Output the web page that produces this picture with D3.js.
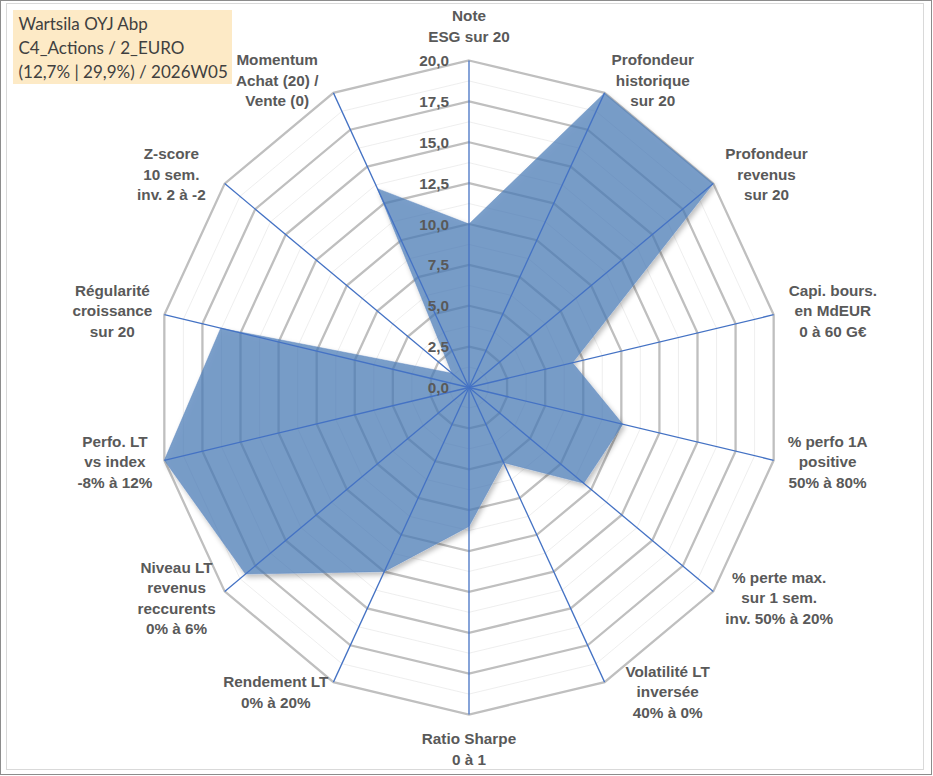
<!DOCTYPE html>
<html>
<head>
<meta charset="utf-8">
<script src="https://cdn.jsdelivr.net/npm/d3@7"></script>
<style>
  html, body { margin: 0; padding: 0; background: #fff; }
  svg { display: block; }
</style>
</head>
<body>
<div id="chart"></div>
<script>
// axes, clockwise from the top
const categories = [
  'Note\nESG sur 20',
  'Profondeur\nhistorique\nsur 20',
  'Profondeur\nrevenus\nsur 20',
  'Capi. bours.\nen MdEUR\n0 à 60 G€',
  '% perfo 1A\npositive\n50% à 80%',
  '% perte max.\nsur 1 sem.\ninv. 50% à 20%',
  'Volatilité LT\ninversée\n40% à 0%',
  'Ratio Sharpe\n0 à 1',
  'Rendement LT\n0% à 20%',
  'Niveau LT\nrevenus\nreccurents\n0% à 6%',
  'Perfo. LT\nvs index\n-8% à 12%',
  'Régularité\ncroissance\nsur 20',
  'Z-score\n10 sem.\ninv. 2 à -2',
  'Momentum\nAchat (20) /\nVente (0)'
]
const scores = [10, 20, 20, 6.8, 10.1, 9.4, 5.1, 8.5, 12.5, 18.3, 20, 16.3, 1.4, 13.5]
const ticks = [0, 2.5, 5, 7.5, 10, 12.5, 15, 17.5, 20]
const minorTicks = [1.25, 3.75, 6.25, 8.75, 11.25, 13.75, 16.25, 18.75]
const titleLines = ['Wartsila OYJ Abp', 'C4_Actions / 2_EURO', '(12,7% | 29,9%) / 2026W05']

// gap between axis end and label box, per axis (layout only)
const labelGap = [0, 7, 12, 15, 14, 12, 21, 0, 5, 9, 12, 12, 19, 15]

const width = 933
const height = 776
const cx = 469
const cy = 387.5
const n = categories.length
const labelColor = '#595959'
const labelFont = '"Liberation Sans", Arial, sans-serif'

const svg = d3.select('#chart')
  .append('svg')
  .attr('width', width)
  .attr('height', height)

// plot area is a little squeezed horizontally, like the source picture
const rX = d3.scaleLinear().domain([0, 20]).range([0, 312.5])
const rY = d3.scaleLinear().domain([0, 20]).range([0, 327])
const angle = d3.scaleLinear().domain([0, n]).range([0, 2 * Math.PI])

const point = (i, v) => [
  cx + rX(v) * Math.sin(angle(i)),
  cy - rY(v) * Math.cos(angle(i))
]

const ringLine = v => d3.line().curve(d3.curveLinearClosed)(d3.range(n).map(i => point(i, v)))

// shadow only outside the shape
const defs = svg.append('defs')
const shadow = defs.append('filter')
  .attr('id', 'shadow')
  .attr('x', '-10%').attr('y', '-10%')
  .attr('width', '120%').attr('height', '120%')
shadow.append('feGaussianBlur').attr('in', 'SourceAlpha').attr('stdDeviation', 2.5).attr('result', 'blur')
shadow.append('feOffset').attr('in', 'blur').attr('dx', 2).attr('dy', 2.5).attr('result', 'off')
shadow.append('feComposite').attr('in', 'off').attr('in2', 'SourceAlpha').attr('operator', 'out').attr('result', 'outer')
shadow.append('feColorMatrix').attr('in', 'outer').attr('type', 'matrix')
  .attr('values', '0 0 0 0 0  0 0 0 0 0  0 0 0 0 0  0 0 0 0.35 0').attr('result', 'shade')
const merge = shadow.append('feMerge')
merge.append('feMergeNode').attr('in', 'shade')
merge.append('feMergeNode').attr('in', 'SourceGraphic')

// grid
const gGrid = svg.append('g')
gGrid.selectAll('path.minor')
  .data(minorTicks)
  .join('path')
  .attr('class', 'minor')
  .attr('d', ringLine)
  .attr('fill', 'none')
  .attr('stroke', '#ececec')
  .attr('stroke-width', 0.9)

gGrid.selectAll('path.major')
  .data(ticks.filter(t => t > 0))
  .join('path')
  .attr('class', 'major')
  .attr('d', ringLine)
  .attr('fill', 'none')
  .attr('stroke', '#bfbfbf')
  .attr('stroke-width', 2.3)
  .attr('stroke-linejoin', 'miter')

// series
svg.append('path')
  .datum(scores)
  .attr('d', d3.line().curve(d3.curveLinearClosed)(scores.map((v, i) => point(i, v))))
  .attr('fill', '#4a7ab5')
  .attr('fill-opacity', 0.72)
  .attr('stroke', '#5a85bb')
  .attr('stroke-opacity', 0.6)
  .attr('stroke-width', 0.8)
  .attr('filter', 'url(#shadow)')

// spokes
svg.append('g')
  .selectAll('line')
  .data(d3.range(n))
  .join('line')
  .attr('x1', cx)
  .attr('y1', cy)
  .attr('x2', i => point(i, 20)[0])
  .attr('y2', i => point(i, 20)[1])
  .attr('stroke', '#4472c4')
  .attr('stroke-width', 1.3)

// value axis labels
svg.append('g')
  .selectAll('text')
  .data(ticks)
  .join('text')
  .attr('x', cx - 20)
  .attr('y', t => cy - rY(t))
  .attr('dy', '0.36em')
  .attr('text-anchor', 'end')
  .attr('font-family', labelFont)
  .attr('font-weight', 'bold')
  .attr('font-size', 15.3)
  .attr('fill', labelColor)
  .text(t => d3.format('.1f')(t).replace('.', ','))

// category labels
const lineH = 20.5
const gLabels = svg.append('g')
  .attr('font-family', labelFont)
  .attr('font-weight', 'bold')
  .attr('font-size', 15.3)
  .attr('fill', labelColor)
  .attr('text-anchor', 'middle')

categories.forEach((cat, i) => {
  const lines = cat.split('\n')
  const a = angle(i)
  const s = Math.sin(a)
  const c = Math.cos(a)
  const [ex, ey] = point(i, 20)
  const text = gLabels.append('text')
  lines.forEach(l => text.append('tspan').text(l))
  const w = d3.max(text.selectAll('tspan').nodes(), nd => nd.getComputedTextLength())

  let x, mid
  if (Math.abs(s) < 0.1) {
    x = ex
    mid = ey - c * (lines.length * lineH / 2 + 14)
  } else {
    x = ex + Math.sign(s) * (labelGap[i] + w / 2)
    mid = ey - 12.5 * c - 1.3
  }
  const top = mid - (lines.length - 1) * lineH / 2
  text.selectAll('tspan')
    .attr('x', x)
    .attr('y', (d, k) => top + k * lineH + 5.4)
})

// title box
const gTitle = svg.append('g')
gTitle.append('rect')
  .attr('x', 13).attr('y', 10)
  .attr('width', 219).attr('height', 74)
  .attr('fill', '#fdeac6')
gTitle.selectAll('text')
  .data(titleLines)
  .join('text')
  .attr('x', 18.5)
  .attr('y', (d, k) => 30 + k * 24)
  .attr('font-family', 'Lato, "Open Sans", sans-serif')
  .attr('font-size', 17)
  .attr('fill', '#404040')
  .text(d => d)

// frame
svg.append('rect')
  .attr('x', 6.5).attr('y', 3.5)
  .attr('width', 917).attr('height', 766)
  .attr('fill', 'none')
  .attr('stroke', '#d9d9d9')
svg.append('rect')
  .attr('x', 0.5).attr('y', 0.5)
  .attr('width', 931).attr('height', 774)
  .attr('fill', 'none')
  .attr('stroke', '#8c8c8c')
</script>
</body>
</html>
